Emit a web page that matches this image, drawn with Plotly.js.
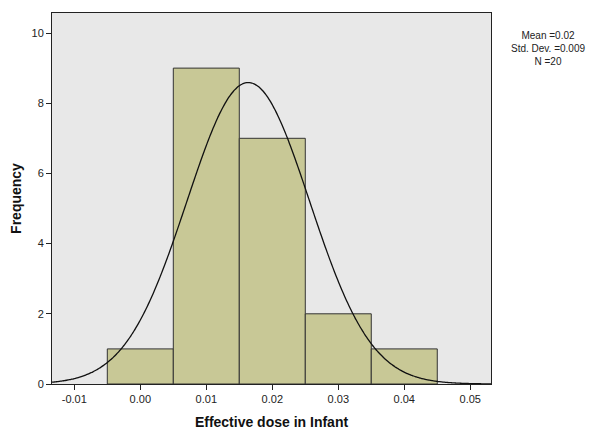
<!DOCTYPE html>
<html><head><meta charset="utf-8">
<script src="https://cdn.plot.ly/plotly-3.0.1.min.js"></script>
<style>html,body{margin:0;padding:0;background:#fff}#c{width:614px;height:432px}</style>
</head><body><div id="c"></div>
<script>
var binCenters = [0.00, 0.01, 0.02, 0.03, 0.04];
var frequencies = [1, 9, 7, 2, 1];
var binWidth = 0.01;
var curveMean = 0.01636;
var curveSD = 0.00929;
var nTotal = 20;
var statLines = ["Mean =0.02", "Std. Dev. =0.009", "N =20"];
var xTickVals = [-0.01, 0.00, 0.01, 0.02, 0.03, 0.04, 0.05];
var xTickText = ["-0.01", "0.00", "0.01", "0.02", "0.03", "0.04", "0.05"];
var yTickVals = [0, 2, 4, 6, 8, 10];

var xMin = -0.01338, xMax = 0.05314;
var cx = [], cy = [];
for (var i = 0; i <= 300; i++) {
  var x = xMin + (xMax - xMin) * i / 300;
  cx.push(x);
  cy.push(nTotal * binWidth / (curveSD * Math.sqrt(2 * Math.PI)) * Math.exp(-0.5 * Math.pow((x - curveMean) / curveSD, 2)));
}

var data = [
  {type: 'bar', x: binCenters, y: frequencies, width: binWidth,
   marker: {color: 'rgb(200,200,150)', line: {color: '#333', width: 1}},
   hoverinfo: 'skip'},
  {type: 'scatter', mode: 'lines', x: cx, y: cy,
   line: {color: '#111', width: 1.3, shape: 'spline'}, hoverinfo: 'skip'}
];
var layout = {
  width: 614, height: 432,
  margin: {l: 52, r: 123, t: 13, b: 48},
  paper_bgcolor: '#fff', plot_bgcolor: 'rgb(232,232,232)',
  showlegend: false, bargap: 0,
  font: {family: 'Liberation Sans, Arial, sans-serif', size: 11, color: '#222'},
  xaxis: {range: [xMin, xMax], tickvals: xTickVals, ticktext: xTickText,
    showgrid: false, zeroline: false, showline: true, linecolor: '#222', linewidth: 1, mirror: true,
    ticks: 'outside', ticklen: 5, tickcolor: '#222',
    title: {text: 'Effective dose in Infant', font: {size: 14, color: '#111', family: 'Liberation Sans, Arial, sans-serif', weight: 'bold'}, standoff: 12}},
  yaxis: {range: [0, 10.57], tickvals: yTickVals,
    showgrid: false, zeroline: false, showline: true, linecolor: '#222', linewidth: 1, mirror: true,
    ticks: 'outside', ticklen: 5, tickcolor: '#222',
    title: {text: 'Frequency', font: {size: 14, color: '#111', family: 'Liberation Sans, Arial, sans-serif', weight: 'bold'}, standoff: 6}},
  annotations: [{xref: 'paper', yref: 'paper', x: 1.130, y: 0.905, xanchor: 'center', yanchor: 'middle',
    align: 'center', showarrow: false, text: statLines.join('<br>'),
    font: {size: 10, color: '#222'}}]
};
Plotly.newPlot('c', data, layout, {staticPlot: true, displayModeBar: false});
</script></body></html>
